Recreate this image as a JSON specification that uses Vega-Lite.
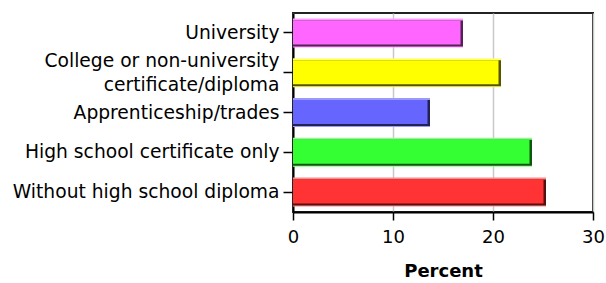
{
  "$schema": "https://vega.github.io/schema/vega-lite/v6.json",
  "autosize": {"type": "none"},
  "padding": {"left": 293, "top": 13, "right": 13, "bottom": 71},
  "width": 300,
  "height": 199,
  "background": "white",
  "config": {
    "view": {"stroke": "#222222", "strokeWidth": 2},
    "font": "DejaVu Sans"
  },
  "data": {
    "values": [
      {"level": "University", "percent": 17.0, "fill": "#ff66ff", "light": "#ff99ff", "dark": "#552255"},
      {"level": "College or non-university|certificate/diploma", "percent": 20.8, "fill": "#ffff00", "light": "#ffff77", "dark": "#555500"},
      {"level": "Apprenticeship/trades", "percent": 13.7, "fill": "#6666ff", "light": "#9999ff", "dark": "#222255"},
      {"level": "High school certificate only", "percent": 23.9, "fill": "#33ff33", "light": "#88ff88", "dark": "#115511"},
      {"level": "Without high school diploma", "percent": 25.3, "fill": "#ff3333", "light": "#ff8888", "dark": "#551111"}
    ]
  },
  "encoding": {
    "y": {
      "field": "level",
      "type": "nominal",
      "sort": null,
      "title": null,
      "scale": {"paddingInner": 0.27, "paddingOuter": 0.135},
      "axis": {
        "labelExpr": "split(datum.label, '|')",
        "labelFont": "DejaVu Sans",
        "labelFontSize": 18.7,
        "labelColor": "#000000",
        "labelLimit": 300,
        "labelPadding": 4,
        "labelLineHeight": 24,
        "labelOffset": {"condition": {"test": "indexof(datum.value, '|') >= 0", "value": -12}, "value": 0},
        "tickSize": 10,
        "tickColor": "#000000",
        "tickWidth": 1.5,
        "domainColor": "#000000",
        "domainWidth": 2
      }
    },
    "x": {
      "field": "percent",
      "type": "quantitative",
      "title": "Percent",
      "scale": {"domain": [0, 30], "nice": false},
      "axis": {
        "values": [0, 10, 20, 30],
        "labelFlush": false,
        "labelFont": "DejaVu Sans",
        "labelFontSize": 18,
        "labelColor": "#000000",
        "labelPadding": 8,
        "tickSize": 8,
        "tickColor": "#000000",
        "tickWidth": 1.5,
        "domainColor": "#000000",
        "domainWidth": 2,
        "grid": true,
        "gridColor": "#c8c8c8",
        "gridWidth": 1.5,
        "titleFont": "DejaVu Sans",
        "titleFontSize": 18,
        "titleFontWeight": "bold",
        "titleColor": "#000000",
        "titlePadding": 16
      }
    }
  },
  "layer": [
    {
      "mark": {"type": "bar", "height": 29, "cornerRadius": 0},
      "encoding": {"color": {"field": "light", "type": "nominal", "scale": null}}
    },
    {
      "mark": {"type": "bar", "height": 26, "yOffset": 0.5},
      "encoding": {"color": {"field": "dark", "type": "nominal", "scale": null}, "x2": {"datum": 0}}
    },
    {
      "mark": {"type": "bar", "height": 24, "yOffset": -0.5, "xOffset": -2.5},
      "encoding": {"color": {"field": "fill", "type": "nominal", "scale": null}, "x2": {"datum": 0}}
    }
  ]
}
